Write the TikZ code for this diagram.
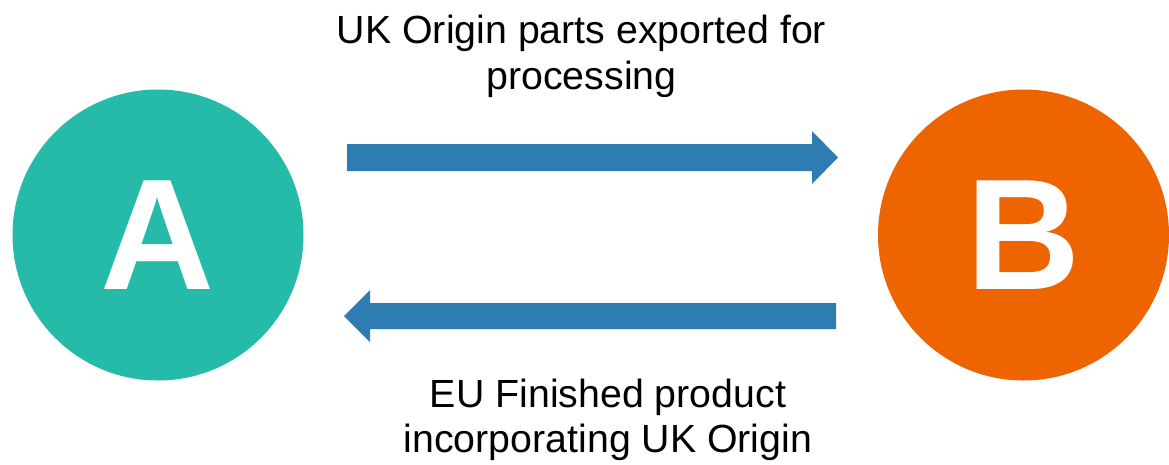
\documentclass[tikz,border=0pt]{standalone}
\usepackage{fontspec}
\setmainfont{Liberation Sans}
\definecolor{tealA}{RGB}{38,187,168}
\definecolor{orangeB}{RGB}{237,100,0}
\definecolor{arrowblue}{RGB}{46,124,178}
\begin{document}
\begin{tikzpicture}[x=1pt,y=-1pt,
  party/.style={circle,minimum size=291pt,inner sep=0pt,text=white,
    font=\fontsize{158}{158}\selectfont\bfseries},
  lbl/.style={anchor=base,inner sep=0pt,font=\fontsize{39.3}{46}\selectfont},
  flow/.style={fill=arrowblue,draw=none}]
\fill[white] (0,0) rectangle (1169,464);
\useasboundingbox (0,0) rectangle (1169,464);
\node[party,fill=tealA] (A) at (158,235) {A};
\node[party,fill=orangeB] (B) at (1023.5,235) {B};
% top arrow A -> B
\fill[flow] (347,144) -- (812,144) -- (812,131) -- (838,157.5) -- (812,184) -- (812,171) -- (347,171) -- cycle;
% bottom arrow B -> A
\fill[flow] (836,303) -- (370,303) -- (370,290) -- (344,316) -- (370,342) -- (370,329) -- (836,329) -- cycle;
\node[lbl] (t1) at (581.5,43) {UK Origin parts exported for};
\node[lbl] (t2) at (581.5,89) {processing};
\node[lbl] (b1) at (608,407) {EU Finished product};
\node[lbl] (b2) at (608,452) {incorporating UK Origin};
\end{tikzpicture}
\end{document}
